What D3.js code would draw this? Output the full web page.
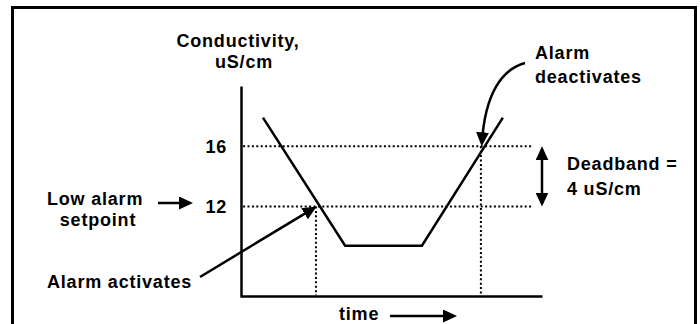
<!DOCTYPE html>
<html>
<head>
<meta charset="utf-8">
<script src="https://cdn.jsdelivr.net/npm/d3@7"></script>
<style>
  html, body { margin: 0; padding: 0; background: #fff; }
  svg { display: block; }
  text { font-family: "Liberation Sans", Arial, Helvetica, sans-serif; font-weight: bold; font-size: 18px; letter-spacing: 0.8px; fill: #000; }
</style>
</head>
<body>
<svg id="chart" width="700" height="324"></svg>
<script>
// Conductivity trace over time (arbitrary time units 0–100)
const traceTime = [7.3, 34.6, 60.1, 87.0];
const traceConductivity = [17.9, 9.4, 9.4, 17.9];

// Alarm thresholds and tick labels (uS/cm)
const yTickValues = [12, 16];
const lowSetpoint = 12;
const deadband = 4;
const resetLevel = lowSetpoint + deadband;

// Times where the alarm switches state
const activateTime = 24.9;
const deactivateTime = 79.7;

const svg = d3.select("#chart");

// Frame around the whole diagram
svg.append("rect")
  .attr("x", 12.5).attr("y", 7.5)
  .attr("width", 683).attr("height", 330)
  .attr("fill", "none").attr("stroke", "#000").attr("stroke-width", 3);

const x = d3.scaleLinear().domain([0, 100]).range([241, 542]);
const y = d3.scaleLinear().domain([6, 20]).range([297, 86]);

// Arrowhead marker
const defs = svg.append("defs");
defs.append("marker")
  .attr("id", "head")
  .attr("markerUnits", "userSpaceOnUse")
  .attr("viewBox", "0 0 14 13")
  .attr("markerWidth", 14).attr("markerHeight", 13)
  .attr("refX", 11).attr("refY", 6.5)
  .attr("orient", "auto-start-reverse")
  .append("path").attr("d", "M0,0 L14,6.5 L0,13 Z").attr("fill", "#000");

// Axes: plain lines, only the threshold values labelled
const yAxis = svg.append("g")
  .attr("transform", `translate(${x(0)},0)`)
  .call(d3.axisLeft(y).tickValues(yTickValues).tickSize(0).tickPadding(14).tickFormat(d3.format("d")));
yAxis.select(".domain").attr("stroke", "#000").attr("stroke-width", 2.5);
yAxis.selectAll(".tick text")
  .attr("font-family", null).attr("font-size", null).attr("fill", null);
yAxis.attr("font-family", null).attr("font-size", null);

const xAxis = svg.append("g")
  .attr("transform", `translate(0,${y(6) - 1})`)
  .call(d3.axisBottom(x).tickValues([]).tickSizeOuter(0));
xAxis.select(".domain").attr("stroke", "#000").attr("stroke-width", 2.5);

// Dotted guide lines at the setpoint and the reset level
const dotted = svg.append("g")
  .attr("stroke", "#000").attr("stroke-width", 2)
  .attr("stroke-dasharray", "2,2.4").attr("fill", "none");
[lowSetpoint, resetLevel].forEach(v => {
  dotted.append("line")
    .attr("x1", x(0.7)).attr("x2", x(97))
    .attr("y1", y(v)).attr("y2", y(v));
});
dotted.append("line")
  .attr("x1", x(activateTime)).attr("x2", x(activateTime))
  .attr("y1", y(lowSetpoint)).attr("y2", y(6) - 2);
dotted.append("line")
  .attr("x1", x(deactivateTime)).attr("x2", x(deactivateTime))
  .attr("y1", y(resetLevel)).attr("y2", y(6) - 2);

// Conductivity trace
const line = d3.line().x(d => x(d[0])).y(d => y(d[1]));
svg.append("path")
  .datum(d3.zip(traceTime, traceConductivity))
  .attr("d", line)
  .attr("fill", "none").attr("stroke", "#000").attr("stroke-width", 2.5);

// Deadband double arrow
svg.append("line")
  .attr("x1", 542).attr("x2", 542)
  .attr("y1", y(resetLevel) + 3).attr("y2", y(lowSetpoint) - 3)
  .attr("stroke", "#000").attr("stroke-width", 2.5)
  .attr("marker-start", "url(#head)").attr("marker-end", "url(#head)");

// Annotation arrows
const arrows = svg.append("g").attr("stroke", "#000").attr("stroke-width", 2.5).attr("fill", "none");
arrows.append("line").attr("x1", 158).attr("y1", 203).attr("x2", 190).attr("y2", 203)
  .attr("marker-end", "url(#head)");
arrows.append("line").attr("x1", 200).attr("y1", 277).attr("x2", x(activateTime) - 2).attr("y2", y(lowSetpoint) + 1.5)
  .attr("marker-end", "url(#head)");
arrows.append("path").attr("d", `M525,63 C503,69 485,92 ${x(deactivateTime) + 1},${y(resetLevel) - 3}`)
  .attr("marker-end", "url(#head)");
arrows.append("line").attr("x1", 390).attr("y1", 316).attr("x2", 454).attr("y2", 316)
  .attr("marker-end", "url(#head)");

// Labels
const label = (txt, px, py, anchor = "start") =>
  svg.append("text").attr("x", px).attr("y", py).attr("text-anchor", anchor).text(txt);

label("Conductivity,", 238, 47, "middle");
label("uS/cm", 244, 68, "middle");
label("Alarm", 535, 59);
label("deactivates", 535, 83);
label("Deadband =", 567, 170);
label("4 uS/cm", 567, 195);
label("Low alarm", 47, 205);
label("setpoint", 98, 226, "middle");
label("Alarm activates", 47, 288);
label("time", 339, 320);
</script>
</body>
</html>
